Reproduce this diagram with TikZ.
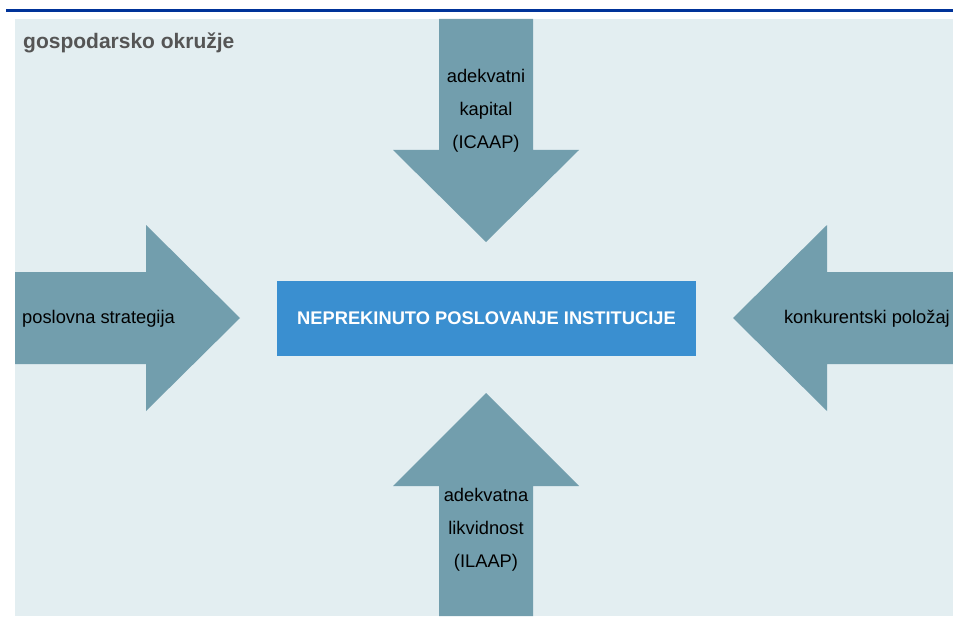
\documentclass[tikz,border=0pt]{standalone}
\usepackage{fontspec}
\setmainfont{Liberation Sans}
\definecolor{rulecol}{RGB}{0,51,153}
\definecolor{panelcol}{RGB}{227,238,241}
\definecolor{arrowcol}{RGB}{114,158,173}
\definecolor{boxcol}{RGB}{58,143,208}
\definecolor{titlecol}{RGB}{85,85,85}
\tikzset{
  arrowshape/.style={fill=arrowcol, draw=none},
  arrowtext/.style={align=center, inner sep=0pt, font=\fontsize{18.3}{33}\selectfont},
  mainbox/.style={fill=boxcol, text=white, minimum width=419pt, minimum height=75pt,
    inner sep=0pt, font=\fontsize{18.3}{22}\selectfont\bfseries}
}
\begin{document}
\begin{tikzpicture}[x=1pt, y=-1pt]
  \useasboundingbox (0,0) rectangle (953,623);

  % Top rule and background panel
  \fill[rulecol] (6,9.5) rectangle (953,12.5);
  \fill[panelcol] (15,19) rectangle (953,616);
  \node[anchor=west, inner sep=0pt, text=titlecol, font=\fontsize{21}{25}\selectfont\bfseries]
    (title) at (23,43) {gospodarsko okružje};

  % Arrows pointing to the centre
  \fill[arrowshape] (439,19) -- (533,19) -- (533,150) -- (579,150) -- (486,242)
    -- (393,150) -- (439,150) -- cycle;
  \fill[arrowshape] (439,616) -- (533,616) -- (533,486) -- (579,486) -- (486,393)
    -- (393,486) -- (439,486) -- cycle;
  \fill[arrowshape] (15,272) -- (146,272) -- (146,225) -- (240,318) -- (146,411)
    -- (146,364) -- (15,364) -- cycle;
  \fill[arrowshape] (953,272) -- (827,272) -- (827,225) -- (733,318) -- (827,411)
    -- (827,364) -- (953,364) -- cycle;

  % Arrow labels
  \node[arrowtext] (kapital) at (486,111) {adekvatni\\kapital\\(ICAAP)};
  \node[arrowtext] (likvidnost) at (486,530) {adekvatna\\likvidnost\\(ILAAP)};
  \node[arrowtext, anchor=west] (strategija) at (22,319) {poslovna strategija};
  \node[arrowtext, anchor=east] (polozaj) at (950,319) {konkurentski položaj};

  % Centre box
  \node[mainbox] (institucija) at (486.5,318.5) {NEPREKINUTO POSLOVANJE INSTITUCIJE};
\end{tikzpicture}
\end{document}
